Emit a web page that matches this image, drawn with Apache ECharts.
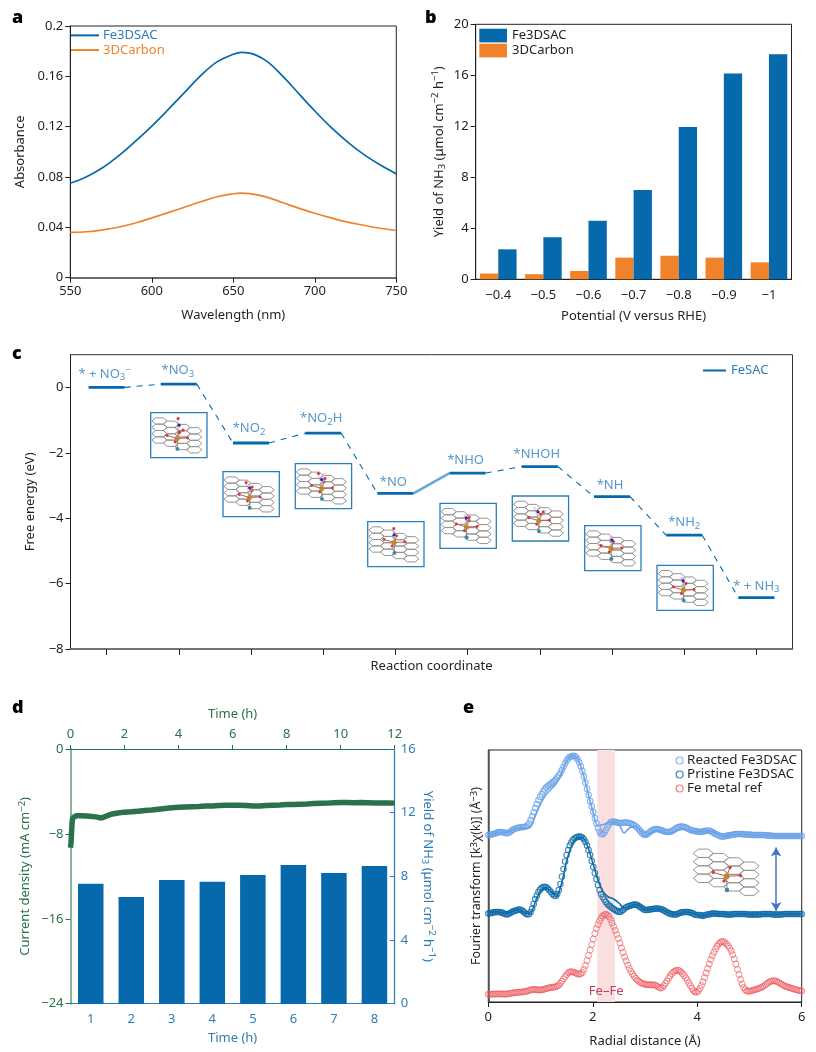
<!DOCTYPE html>
<html><head><meta charset="utf-8">
<style>html,body{margin:0;padding:0;background:#fff}#c{width:816px;height:1052px}</style>
<script src="https://cdn.jsdelivr.net/npm/echarts@6/dist/echarts.min.js"></script>
</head><body><div id="c"></div>
<script>
// ---------- panel a ----------
const wavelengths=[550,560,570,580,590,600,610,620,630,640,650,655,660,670,680,690,700,710,720,730,740,750];
const absFe=[.075,.0802,.0875,.0972,.1085,.1205,.1335,.147,.1605,.1715,.1775,.179,.1785,.1725,.1605,.1465,.1325,.1195,.108,.098,.0897,.0825];
const absC=[.036,.0365,.038,.0403,.0435,.0475,.0517,.056,.0603,.0643,.0667,.0672,.0668,.0642,.0598,.0553,.0512,.0475,.0442,.0417,.0393,.0375];
// ---------- panel b ----------
const potentials=['−0.4','−0.5','−0.6','−0.7','−0.8','−0.9','−1'];
const yieldC=[.45,.4,.65,1.7,1.85,1.7,1.33];
const yieldFe=[2.35,3.3,4.6,7.0,11.95,16.15,17.65];
// ---------- panel c ----------
const stepLabels=['* + NO{s|3}{p|−}','*NO{s|3}','*NO{s|2}','*NO{s|2}H','*NO','*NHO','*NHOH','*NH','*NH{s|2}','* + NH{s|3}'];
const stepEnergy=[0,.1,-1.7,-1.4,-3.24,-2.62,-2.42,-3.34,-4.52,-6.43];
const solidStep=4; // connector leaving this step is drawn solid
// ---------- panel d ----------
const hours=['1','2','3','4','5','6','7','8'];
const yieldTime=[7.54,6.7,7.77,7.66,8.08,8.71,8.21,8.65];
const currentTrace=[[0,-9.3],[.02,-8.8],[.04,-7.8],[.06,-6.9],[.08,-6.5],[.12,-6.35],[.2,-6.3],[.4,-6.3],[.6,-6.32],[.8,-6.35],[1,-6.42],[1.1,-6.5],[1.2,-6.45],[1.35,-6.3],[1.5,-6.15],[1.75,-6.03],[2,-5.95],[2.25,-5.92],[2.5,-5.86],[2.75,-5.8],[3,-5.74],[3.25,-5.67],[3.5,-5.6],[3.75,-5.53],[4,-5.5],[4.25,-5.47],[4.5,-5.44],[4.75,-5.42],[5,-5.38],[5.25,-5.36],[5.5,-5.32],[5.75,-5.31],[6,-5.3],[6.25,-5.31],[6.5,-5.33],[6.75,-5.38],[7,-5.36],[7.25,-5.32],[7.5,-5.3],[7.75,-5.28],[8,-5.23],[8.25,-5.22],[8.5,-5.2],[8.75,-5.18],[9,-5.14],[9.25,-5.12],[9.5,-5.1],[9.75,-5.07],[10,-5.05],[10.25,-5.05],[10.5,-5.06],[10.75,-5.05],[11,-5.06],[11.25,-5.08],[11.5,-5.09],[11.75,-5.08],[12,-5.1]];
// ---------- panel e (arbitrary units, curves offset) sampled every 0.03 Å, fits every 0.1 Å ----------
const ftMetal=[7.7,7.8,7.8,7.9,7.9,8.0,8.1,8.1,8.0,8.0,
7.9,7.9,8.0,8.3,8.6,8.9,9.1,9.4,9.5,9.7,
9.8,9.9,10.1,10.3,10.6,11,11.6,12.1,12.4,12.5,
12.4,12.2,12.1,12,12.1,12.4,12.9,13.4,13.8,14.3,
14.6,14.7,14.9,15.2,16,17,18.8,20.8,23.2,25.4,
27.5,29.2,30.1,30.3,30,29.5,28.8,28.1,27.8,28.2,
29.5,32.5,36.5,41.5,46.5,52,57.5,63,68.5,73.5,
77.5,81,84,86,87.2,87.7,86.8,85.2,82.5,79,
75.5,71.5,67.5,63.5,59,54,49.5,45,41,37,
33.5,30.5,28,25.8,23.8,22,20.8,19.6,18.8,18.2,
17.7,17.4,17.3,17.2,17.2,17.2,17.1,16.5,15.6,14.6,
13.8,14.5,16.2,18.6,21,23.7,26,28.2,29.8,30.9,
31.6,31.8,31.2,30,28.3,26.5,24.3,22,19,16.2,
13.5,11.2,10,9.8,11,13.5,16.6,20.2,24.5,29,
33.5,38,42.5,46.2,49.8,53,55.8,58,59.5,60.3,
60.5,59.5,58,56.2,53.8,51,47.2,43,37.8,32.5,
27.5,22.5,18,14.5,12.2,11,10.8,10.9,11.3,11.8,
12.3,12.7,13.2,13.8,14.5,15.2,16.2,17.4,18.6,19.6,
20.5,21,21.2,21.1,20.6,19.8,18.9,17.9,17,16.2,
15.5,15,14.5,14,13.5,13,12.5,12.1,11.7,11.3,
11];
const ftPristine=[88.5,88.8,89.1,89.4,89.7,90,90,90,89.6,89.1,
88.5,87.9,87.6,88.2,89,90,90.6,91.2,91.8,92.2,
92.5,92,91,89.6,88.2,87.5,88,90,93.5,98,
103,106.5,110,112.5,114,115,115.2,114.8,113.5,111.8,
110,108,106.5,106,108,112,118,125.5,133,140.5,
147,152,156.5,159.5,162,163.5,164.5,165.2,165.5,165.2,
164.5,162.8,160,156.5,152,147,141,135,129,123,
117,112,108,105,102.5,100,98,96.5,95.5,94,
93,92,91,90.2,90,91,92,93.5,94.7,95.5,
96,96.5,97,97.4,97.4,97,96,95,94,92.8,
92,92,92.2,92.4,92.8,93,93.3,93.5,93.5,93.3,
93,92.5,91.6,90.8,89.8,89,88.3,87.9,87.6,87.5,
87.5,88.3,89,89.4,89.7,90,90,90,89.7,89.4,
89,88.2,87.3,87,87,87,86.4,86,86.7,87.2,
87.5,87.8,88.1,88.4,88.5,88.5,88.2,88,88,88,
88,87.8,87.5,87.5,87.5,87.5,87.7,88,88,88,
88,88,88,88,88,87.8,87.5,87.5,87.5,87.5,
87.5,87.5,87.5,87.5,87.7,88,88,88,88,88,
88,87.7,87.5,87.5,87.5,87.5,87.5,87.5,87.7,88,
88,88,88,88,88,88,88,88,88,88,
88];
const ftReacted=[167,167.3,167.6,167.9,168.3,169,169.6,170,170,169.8,
169.5,168.9,168.7,169.2,170.3,171.5,172.4,173.2,173.8,174.2,
174.5,174.8,175,175,175.4,176.5,178.8,182,185.8,189.8,
194,198,201.7,205,207.8,210.5,212.7,214.6,216,217.3,
218.5,219.7,221,222.4,224.5,226.5,229,232,235.3,238.5,
241.5,243.5,245,245.8,246.2,246,244.8,242.8,239.7,235.8,
231,225.4,219.3,213,207,201,195.6,190,184,178.6,
174,170.5,168,167.7,169.2,172,175,177.8,179.5,180.3,
180.5,180,179.5,179.1,179,179,179.3,179.5,179.5,179.3,
179,178.5,177.8,176.9,175.7,174.5,172.8,170.9,169.1,167.7,
167,167.5,168.5,170,171.1,172,172.6,173,173,172.5,
172,171.4,170.8,170.2,170,170,170.2,170.8,171.7,172.8,
174,174.7,175.1,175.4,175.4,175,174.4,173.7,172.8,172,
171.5,171.2,170.9,170.6,170.3,170,170.3,170.6,170.9,171.2,
171.5,171.3,170.8,169.9,169,168,167.4,166.7,165.8,165.5,
165.5,165.8,166.1,166.4,166.7,167,167.3,167.6,167.9,168,
168,168,168,167.6,167.5,167.5,167.5,167.4,167.1,167,
167,167,167,167,167,167,167,166.8,166.5,166.5,
166.5,166.3,166,166,166,166,166,166,166,166,
166,166,166,166,166,166,166,166,166,166,
166];
const fitPristine=[88.5,90,90,88.5,89,91.5,92.5,88.5,88.5,100,111,114.5,110.5,105.5,118,141,157,164,164.5,156,139,122,110,105,103,99,94,95.5,97.5,96,92,92.5,93.5,93,90.5,88,87.5,89.5,90,89,87,86,87.5,88.5,88,88,87.5,87.5,88,88,87.5,87.5,88,88,87.5,87.5,88,88,88,88,88];
const fitReacted=[167,168,170,169.5,170,173,174,174,174.5,186,198,207,212.5,218.5,229,241,246.5,244,231,211,191,176,177.5,179.5,180,178,169,174,176,172,165.5,169,172,171,169,169,171,172.5,172.5,171,170,170.5,171,170,167.5,165.5,166.5,167.5,168,167.5,167.5,167,167,167,166.5,166,166,166,166,166,166];

// ---------- style constants ----------
const FONT='"Noto Sans", sans-serif';
const INK='#231f20',BLUE='#0569ab',ORANGE='#f0832a',LBL='#2b7dbb',GREEN='#29724a',DBLUE='#2f7cb5';
const TS=13;
const RICH={s:{fontSize:9.5,verticalAlign:'bottom',padding:[7,0,0,0],fontFamily:FONT},p:{fontSize:9.5,verticalAlign:'top',padding:[0,0,5,0],fontFamily:FONT}};
function richFor(color){const r={};for(const k in RICH){r[k]=Object.assign({},RICH[k],{color});}return r;}
function ax(o,color,extra){
  return Object.assign({
    nameLocation:'middle',
    nameTextStyle:{color,fontFamily:FONT,fontSize:TS,rich:richFor(color)},
    axisLine:{show:true,onZero:false,lineStyle:{color:INK,width:1}},
    axisTick:{show:true,length:5,lineStyle:{color:INK,width:1}},
    axisLabel:{color,fontFamily:FONT,fontSize:TS,margin:7},
    splitLine:{show:false}
  },o,extra||{});
}
const idx=(arr,step)=>arr.map((v,i)=>[+(i*step).toFixed(2),v]);

// ---------- panel c level segments built from stepEnergy ----------
const half=.25;
const levelData=[],dashData=[],solidData=[];
stepEnergy.forEach((e,i)=>{
  levelData.push([i+.5-half,e],[i+.5+half,e],[i+.5+half,null]);
  if(i<stepEnergy.length-1){
    const target=i===solidStep?solidData:dashData;
    target.push([i+.5+half,e],[i+1.5-half,stepEnergy[i+1]],[i+1.5-half,null]);
  }
});
const labelAdjust=[[-2,-2],[-1,-2],[-2,-3],[-2,-3],[-2,-2],[-2,-3],[-3,-3],[-2,-2],[0,-1],[0,0]];

// ---------- decorative structure insets ----------
const insetBoxes=[[150.7,412.7],[223,471.7],[295.3,463.7],[367.7,521.7],[440,503.3],[512.3,496],[584.7,525.7],[657,565.3]];
const insetFeShift=[0,0,-1,-5,-2,-1,-3,-1];
const C_O='#d9363e',C_N='#2a22b8',C_H='#f2c6cc';
const adsorbates=[
 [[2,-13.3,C_N],[1,-20,C_O],[6,-8.3,C_O],[2,-6,C_O]],
 [[.3,-9.6,C_N],[-3.3,-15,C_O],[2.7,-10.5,C_O]],
 [[0,-9,C_N],[-3.3,-15,C_O],[3.3,-10,C_O],[2.3,-14,C_H]],
 [[0,-7.7,C_N],[-.3,-14,C_O]],
 [[0,-9,C_N],[2.7,-9.7,C_O],[-2,-12,C_H]],
 [[-.7,-9,C_N],[4.7,-9,C_O],[-4.3,-13,C_H],[6.5,-10,C_H]],
 [[1,-8.3,C_N],[-1,-12.7,C_H]],
 [[-.3,-9.3,C_N],[-2,-12,C_H],[1.5,-12,C_H]]
];
function structure(ox,oy,s,feShift,ads){
  const W=20*s,h=8.33*s,dx=15.3*s,dy=4.3*s,kids=[];
  for(let c=0;c<4;c++)for(let r=0;r<4;r++){
    const cx=ox+c*dx,cy=oy+c*dy+r*h;
    kids.push({type:'polygon',shape:{points:[[cx-W/2,cy],[cx-W/4,cy-h/2],[cx+W/4,cy-h/2],[cx+W/2,cy],[cx+W/4,cy+h/2],[cx-W/4,cy+h/2]]},
      style:{fill:'none',stroke:'#949494',lineWidth:1}});
  }
  const fx=ox+23.3*s,fy=oy+(23)*s+feShift;
  const around=[[10,19],[26.7,14.3],[37.3,22.3],[20.7,27.7]].map(p=>[ox+p[0]*s,oy+p[1]*s+feShift]);
  const teal=[ox+23.7*s,oy+36.7*s+feShift];
  around.forEach(p=>kids.push({type:'line',shape:{x1:fx,y1:fy,x2:p[0],y2:p[1]},style:{stroke:'#c8584a',lineWidth:1}}));
  kids.push({type:'line',shape:{x1:fx,y1:fy,x2:teal[0],y2:teal[1]},style:{stroke:'#8a8a70',lineWidth:1}});
  around.forEach(p=>kids.push({type:'circle',shape:{cx:p[0],cy:p[1],r:1.7*Math.max(s,.85)},style:{fill:C_O}}));
  kids.push({type:'circle',shape:{cx:teal[0],cy:teal[1],r:2.3*Math.max(s,.85)},style:{fill:'#3d87a8'}});
  (ads||[]).forEach(a=>{kids.push({type:'line',shape:{x1:fx,y1:fy,x2:fx+a[0],y2:fy+a[1]},style:{stroke:'#b5a0a0',lineWidth:.6}});});
  (ads||[]).forEach(a=>{kids.push({type:'circle',shape:{cx:fx+a[0],cy:fy+a[1],r:a[2]===C_H?1.2:1.6},style:{fill:a[2]}});});
  kids.push({type:'circle',shape:{cx:fx,cy:fy,r:3*Math.max(s,.85)},style:{fill:'#b98a2c'}});
  kids.forEach(k=>{k.z=6;});
  return kids;
}
const graphicEls=[];
insetBoxes.forEach((b,i)=>{
  graphicEls.push({type:'rect',shape:{x:b[0],y:b[1],width:56.3,height:45},style:{fill:'#fff',stroke:'#2a7fb8',lineWidth:1.3},z:5});
  graphicEls.push({type:'group',children:structure(b[0]+8.7,b[1]+8.3,.76,insetFeShift[i],adsorbates[i])});
});
graphicEls.push({type:'group',children:structure(703.3,853.3,1,0,[])});

// ---------- option ----------
const option={
 animation:false,
 backgroundColor:'#fff',
 textStyle:{fontFamily:FONT},
 title:[['a',12,9],['b',425,9],['c',12,345],['d',12,699],['e',463,699]].map(t=>({text:t[0],left:t[1],top:t[2],padding:0,textStyle:{fontFamily:FONT,fontWeight:'900',fontSize:18,color:'#000'}})),
 grid:[
  {left:70.3,top:26,width:326,height:251.7,show:true,borderColor:'#222',borderWidth:1},
  {left:475.7,top:24.3,width:315.8,height:255,show:true,borderColor:'#222',borderWidth:1},
  {left:70.5,top:354.7,width:722,height:294.3,show:true,borderColor:'#333',borderWidth:1},
  {left:70.5,top:749,width:324.2,height:254.7},
  {left:488.3,top:750,width:313.4,height:252,show:true,borderColor:'#222',borderWidth:1}
 ],
 xAxis:[
  ax({type:'value',gridIndex:0,min:550,max:750,interval:50,name:'Wavelength (nm)',nameGap:31},INK,{axisLine:{onZero:false,lineStyle:{color:'#6b6b6b',width:2}}}),
  ax({type:'category',gridIndex:1,data:potentials,name:'Potential (V versus RHE)',nameGap:30},INK,{axisTick:{alignWithLabel:true,length:5,lineStyle:{color:INK}},axisLabel:{color:INK,fontFamily:FONT,fontSize:TS,margin:9,interval:0}}),
  ax({type:'value',gridIndex:2,min:0,max:10,name:'Reaction coordinate',nameGap:11},INK,{axisLine:{onZero:false,lineStyle:{color:'#666',width:1.6}},
     axisTick:{show:true,length:6,customValues:[.5,1.5,2.5,3.5,4.5,5.5,6.5,7.5,8.5,9.5],lineStyle:{color:INK}},axisLabel:{show:false}}),
  ax({type:'category',gridIndex:3,data:hours,name:'Time (h)',nameGap:28},DBLUE,{axisLine:{onZero:false,lineStyle:{color:DBLUE,width:1.2}},axisTick:{alignWithLabel:true,length:5,lineStyle:{color:DBLUE}},axisLabel:{color:DBLUE,fontFamily:FONT,fontSize:TS,margin:9,interval:0}}),
  ax({type:'value',gridIndex:3,position:'top',min:0,max:12,interval:2,name:'Time (h)',nameGap:28},GREEN,{axisLine:{onZero:false,lineStyle:{color:GREEN,width:1}},axisTick:{length:4,lineStyle:{color:GREEN}},axisLabel:{color:GREEN,fontFamily:FONT,fontSize:TS,margin:8}}),
  ax({type:'value',gridIndex:4,min:0,max:6,interval:2,name:'Radial distance (Å)',nameGap:33},INK,{axisLabel:{color:INK,fontFamily:FONT,fontSize:TS,margin:9}})
 ],
 yAxis:[
  ax({type:'value',gridIndex:0,min:0,max:.2,interval:.04,name:'Absorbance',nameGap:44},INK),
  ax({type:'value',gridIndex:1,min:0,max:20,interval:4,name:'Yield of NH{s|3} (μmol cm{p|−2} h{p|−1})',nameGap:28},INK),
  ax({type:'value',gridIndex:2,min:-8,max:1,name:'Free energy (eV)',nameGap:34},INK,{
     axisTick:{show:true,length:5,customValues:[-8,-6,-4,-2,0],lineStyle:{color:INK}},
     axisLabel:{color:INK,fontFamily:FONT,fontSize:TS,margin:7,customValues:[-8,-6,-4,-2,0],formatter:v=>String(v).replace('-','−')}}),
  ax({type:'value',gridIndex:3,min:-24,max:0,interval:8,name:'Current density (mA cm{p|−2})',nameGap:38},GREEN,{axisLine:{onZero:false,lineStyle:{color:'#8ab49b',width:2}},axisTick:{length:5,lineStyle:{color:GREEN}},
     axisLabel:{color:GREEN,fontFamily:FONT,fontSize:TS,margin:7,formatter:v=>String(v).replace('-','−')}}),
  ax({type:'value',gridIndex:3,position:'right',min:0,max:16,interval:4,name:'Yield of NH{s|3} (μmol cm{p|−2} h{p|−1})',nameGap:25,nameRotate:-90},DBLUE,{axisLine:{onZero:false,lineStyle:{color:DBLUE,width:1.2}},axisTick:{inside:true,length:5,lineStyle:{color:DBLUE}},axisLabel:{color:DBLUE,fontFamily:FONT,fontSize:TS,margin:6}}),
  ax({type:'value',gridIndex:4,min:0,max:252,name:'Fourier transform [k{p|3}χ(k)] (Å{p|−3})',nameGap:4},INK,{nameTextStyle:{color:INK,fontFamily:FONT,fontSize:12.4,rich:richFor(INK)},axisLine:{onZero:false,lineStyle:{color:'#555',width:1.6}},axisTick:{show:false},axisLabel:{show:false}})
 ],
 legend:[
  {left:71,top:28,orient:'vertical',itemWidth:28,itemHeight:2,itemGap:0,padding:0,selectedMode:false,data:[{name:'Fe3DSAC',icon:'rect',itemStyle:{color:BLUE},textStyle:{color:LBL}},{name:'3DCarbon',icon:'rect',itemStyle:{color:ORANGE},textStyle:{color:ORANGE}}],textStyle:{fontFamily:FONT,fontSize:TS,lineHeight:14.7,padding:[0,0,0,-1]}},
  {left:479.3,top:28.7,orient:'vertical',itemWidth:27.7,itemHeight:13.7,itemGap:1.3,padding:0,selectedMode:false,data:[{name:'Fe3DSAC ',icon:'rect'},{name:'3DCarbon ',icon:'rect'}],textStyle:{color:INK,fontFamily:FONT,fontSize:TS,padding:[0,0,0,0]}},
  {left:703,top:364,itemWidth:23,itemHeight:2,padding:0,selectedMode:false,data:[{name:'FeSAC',icon:'rect',itemStyle:{color:BLUE},textStyle:{color:LBL}}],textStyle:{fontFamily:FONT,fontSize:TS}},
  {left:675.5,top:754,orient:'vertical',itemWidth:7,itemHeight:7,itemGap:1,padding:0,selectedMode:false,
   data:[['Reacted Fe3DSAC','#6aa3e8'],['Pristine Fe3DSAC','#0d6aa8'],['Fe metal ref','#ef5a60']].map(d=>({name:d[0],icon:'circle',itemStyle:{color:'rgba(255,255,255,0)',borderColor:d[1],borderWidth:1.2}})),
   textStyle:{color:INK,fontFamily:FONT,fontSize:13.4,lineHeight:12.5,padding:[0,0,0,-1]}}
 ],
 series:[
  {type:'line',name:'Fe3DSAC',xAxisIndex:0,yAxisIndex:0,data:wavelengths.map((x,i)=>[x,absFe[i]]),smooth:.4,symbol:'none',lineStyle:{color:BLUE,width:1.7},itemStyle:{color:BLUE}},
  {type:'line',name:'3DCarbon',xAxisIndex:0,yAxisIndex:0,data:wavelengths.map((x,i)=>[x,absC[i]]),smooth:.4,symbol:'none',lineStyle:{color:ORANGE,width:1.7},itemStyle:{color:ORANGE}},
  {type:'bar',name:'3DCarbon ',xAxisIndex:1,yAxisIndex:1,data:yieldC,barWidth:18.3,barGap:'0%',itemStyle:{color:ORANGE}},
  {type:'bar',name:'Fe3DSAC ',xAxisIndex:1,yAxisIndex:1,data:yieldFe,barWidth:18.3,barGap:'0%',itemStyle:{color:BLUE}},
  {type:'line',name:'FeSAC',xAxisIndex:2,yAxisIndex:2,data:levelData,symbol:'none',connectNulls:false,lineStyle:{color:BLUE,width:2.8},itemStyle:{color:BLUE},z:4},
  {type:'line',name:'conn',xAxisIndex:2,yAxisIndex:2,data:dashData,symbol:'none',connectNulls:false,lineStyle:{color:BLUE,width:1.1,type:[6,6]},itemStyle:{color:BLUE},z:3},
  {type:'line',name:'connSolid',xAxisIndex:2,yAxisIndex:2,data:solidData,symbol:'none',connectNulls:false,lineStyle:{color:'#6aa8d2',width:2.6},itemStyle:{color:BLUE},z:3},
  {type:'scatter',name:'stepLabels',xAxisIndex:2,yAxisIndex:2,symbolSize:0,silent:true,z:7,
   data:stepEnergy.map((e,i)=>({value:[i+.5,e],label:{formatter:stepLabels[i],offset:labelAdjust[i]}})),
   label:{show:true,position:'top',distance:3,color:LBL,fontFamily:FONT,fontSize:TS,rich:richFor(LBL)}},
  {type:'bar',name:'yieldTime',xAxisIndex:3,yAxisIndex:4,data:yieldTime,barWidth:25.5,itemStyle:{color:BLUE}},
  {type:'line',name:'current',xAxisIndex:4,yAxisIndex:3,data:currentTrace,symbol:'none',lineStyle:{color:GREEN,width:5.5},itemStyle:{color:GREEN},z:4},
  {type:'line',name:'fitReacted',xAxisIndex:5,yAxisIndex:5,data:idx(fitReacted,.1),smooth:.3,symbol:'none',lineStyle:{color:'#6aa3e8',width:1.6},z:4},
  {type:'scatter',name:'Reacted Fe3DSAC',xAxisIndex:5,yAxisIndex:5,data:idx(ftReacted,.03),symbol:'circle',symbolSize:5.5,clip:false,itemStyle:{color:'rgba(255,255,255,0)',borderColor:'#6aa3e8',borderWidth:1.1},z:5},
  {type:'line',name:'fitPristine',xAxisIndex:5,yAxisIndex:5,data:idx(fitPristine,.1),smooth:.3,symbol:'none',lineStyle:{color:'#0d6aa8',width:1.6},z:4},
  {type:'scatter',name:'Pristine Fe3DSAC',xAxisIndex:5,yAxisIndex:5,data:idx(ftPristine,.03),symbol:'circle',symbolSize:5.5,clip:false,itemStyle:{color:'rgba(255,255,255,0)',borderColor:'#0d6aa8',borderWidth:1.1},z:5,
   markLine:{silent:true,symbol:['arrow','arrow'],symbolSize:[8,9],label:{show:false},lineStyle:{color:'#4a72c4',width:1.5,type:'solid'},data:[[{coord:[5.51,154.5]},{coord:[5.51,91]}]]}},
  {type:'scatter',name:'Fe metal ref',xAxisIndex:5,yAxisIndex:5,data:idx(ftMetal,.03),symbol:'circle',symbolSize:6,clip:false,itemStyle:{color:'rgba(255,255,255,0)',borderColor:'#ef5a60',borderWidth:.9},z:5,
   markArea:{silent:true,itemStyle:{color:'#f9dfe0'},z:1,label:{show:true,position:'insideBottom',distance:4,formatter:'Fe–Fe',color:'#c0405a',fontFamily:FONT,fontSize:TS},data:[[{coord:[2.087,0]},{coord:[2.425,252]}]]}}
 ],
 graphic:{elements:graphicEls}
};
const chart=echarts.init(document.getElementById('c'),null,{renderer:'canvas',width:816,height:1052});
chart.setOption(option);
</script></body></html>
